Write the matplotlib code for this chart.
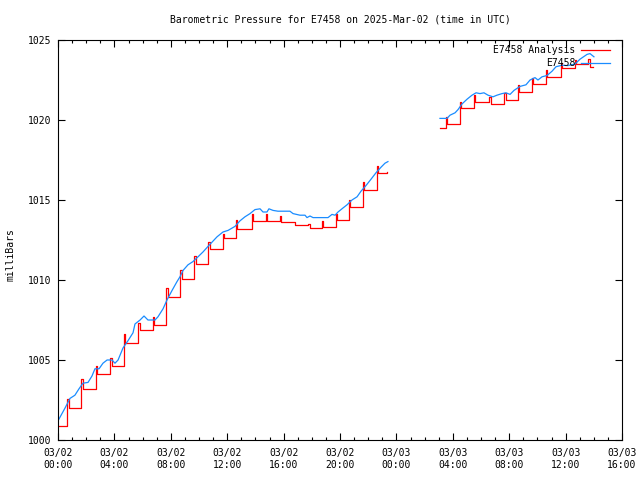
import matplotlib
matplotlib.use('Agg')
import matplotlib.pyplot as plt
import matplotlib.dates as mdates
import numpy as np
import pandas as pd

start = pd.Timestamp('2025-03-02 00:00')

# analysis (red): hourly step with spike -> (hour, spike value, plateau value)
red1_start = (0.0, 1000.9)
red1_t = [0.66, 1.65, 2.67, 3.71, 4.68, 5.70, 6.74, 7.68, 8.67, 9.67, 10.66, 11.68,
          12.62, 13.76, 14.75, 15.74, 16.80, 17.75, 18.70, 19.72, 20.62, 21.61, 22.59]
red1_peak = [1002.56, 1003.8, 1004.6, 1005.15, 1006.65, 1007.3, 1007.7, 1009.5, 1010.6,
             1011.5, 1012.4, 1012.9, 1013.75, 1014.1, 1014.1, 1014.0, 1013.45, 1013.5,
             1013.7, 1014.15, 1015.0, 1016.14, 1017.13]
red1_flat = [1002.0, 1003.2, 1004.15, 1004.6, 1006.05, 1006.9, 1007.2, 1008.95, 1010.05,
             1011.0, 1011.95, 1012.6, 1013.2, 1013.7, 1013.7, 1013.6, 1013.45, 1013.25,
             1013.3, 1013.75, 1014.58, 1015.63, 1016.67]
red1_end = (23.31, 1016.72)

red2_start = (27.09, 1019.48)
red2_t = [27.52, 28.51, 29.49, 30.60, 31.65, 32.60, 33.60, 34.61, 35.65, 36.67, 37.61]
red2_peak = [1020.2, 1021.1, 1021.56, 1021.46, 1021.7, 1022.19, 1022.65, 1023.13,
             1023.54, 1023.72, 1023.81]
red2_flat = [1019.75, 1020.77, 1021.12, 1021.0, 1021.27, 1021.77, 1022.23, 1022.71,
             1023.23, 1023.48, 1023.33]
red2_end = (37.92, 1023.33)

# station obs (blue)
blue1_t = [0.0, 0.5, 0.85, 1.2, 1.49, 1.77, 2.13, 2.41, 2.62, 2.91, 3.19, 3.48, 3.83,
           4.04, 4.26, 4.61, 4.96, 5.32, 5.46, 5.82, 6.1, 6.38, 6.88, 7.09, 7.45, 7.73,
           8.09, 8.44, 8.65, 8.87, 9.22, 9.57, 9.93, 10.28, 10.64, 11.28, 11.7, 12.06,
           12.55, 12.91, 13.26, 13.62, 13.97, 14.33, 14.54, 14.82, 14.96, 15.25, 15.6,
           16.45, 16.67, 17.16, 17.52, 17.66, 17.87, 18.09, 19.15, 19.43, 19.65, 19.86,
           20.21, 20.5, 20.85, 21.21, 21.49, 21.84, 22.2, 22.55, 22.91, 23.19, 23.4]
blue1_v = [1001.2, 1002.0, 1002.6, 1002.8, 1003.2, 1003.55, 1003.6, 1004.0, 1004.45,
           1004.45, 1004.8, 1005.0, 1005.0, 1004.8, 1005.0, 1005.75, 1006.2, 1006.7,
           1007.25, 1007.5, 1007.75, 1007.5, 1007.5, 1007.7, 1008.2, 1008.75, 1009.35,
           1009.9, 1010.2, 1010.6, 1010.95, 1011.15, 1011.45, 1011.75, 1012.1, 1012.7,
           1013.0, 1013.1, 1013.35, 1013.7, 1013.95, 1014.15, 1014.4, 1014.45, 1014.25,
           1014.25, 1014.45, 1014.35, 1014.3, 1014.3, 1014.15, 1014.05, 1014.05, 1013.9,
           1014.0, 1013.9, 1013.9, 1014.1, 1014.05, 1014.25, 1014.5, 1014.7, 1015.0,
           1015.2, 1015.55, 1015.9, 1016.3, 1016.7, 1017.05, 1017.3, 1017.4]
blue2_t = [27.09, 27.59, 27.8, 28.16, 28.37, 28.65, 29.01, 29.36, 29.65, 29.93, 30.21,
           30.5, 30.85, 31.13, 31.49, 31.77, 32.06, 32.34, 32.77, 33.19, 33.48, 33.83,
           34.04, 34.33, 34.68, 35.04, 35.32, 35.74, 36.17, 36.67, 37.02, 37.52, 37.73,
           38.01]
blue2_v = [1020.1, 1020.1, 1020.3, 1020.45, 1020.65, 1021.0, 1021.3, 1021.55, 1021.7,
           1021.65, 1021.7, 1021.55, 1021.45, 1021.55, 1021.65, 1021.7, 1021.6, 1021.85,
           1022.1, 1022.2, 1022.5, 1022.65, 1022.5, 1022.7, 1022.78, 1023.05, 1023.33,
           1023.42, 1023.4, 1023.5, 1023.8, 1024.1, 1024.15, 1023.95]

xtick_hours = [0, 4, 8, 12, 16, 20, 24, 28, 32, 36, 40]
yticks = [1000, 1005, 1010, 1015, 1020, 1025]


def to_time(hours):
    return start + pd.to_timedelta(np.asarray(hours, dtype=float), unit='h')


def red_steps(first, ts, peaks, flats, last):
    # spike at each hour then settle onto the plateau
    t, v = [first[0]], [first[1]]
    for ti, pk, fl in zip(ts, peaks, flats):
        t += [ti, ti + 0.1]
        v += [pk, fl]
    t.append(last[0])
    v.append(last[1])
    return to_time(t), v


mono = 'DejaVu Sans Mono'
plt.rcParams['font.family'] = mono
plt.rcParams['font.size'] = 7

fig = plt.figure(figsize=(6.4, 4.8), dpi=100)
ax = fig.add_axes([58 / 640, 40 / 480, 564 / 640, 400 / 480])

red_c = '#ff0000'
blue_c = '#1a8cff'
lw = 0.9

for seg in [(red1_start, red1_t, red1_peak, red1_flat, red1_end),
            (red2_start, red2_t, red2_peak, red2_flat, red2_end)]:
    t, v = red_steps(*seg)
    ax.plot(t, v, color=red_c, lw=lw, drawstyle='steps-post')

ax.plot(to_time(blue1_t), blue1_v, color=blue_c, lw=lw)
ax.plot(to_time(blue2_t), blue2_v, color=blue_c, lw=lw)

ax.set_xlim(to_time([0])[0], to_time([40])[0])
ax.set_ylim(1000, 1025)
ax.set_yticks(yticks)
ax.set_xticks(to_time(xtick_hours))
ax.xaxis.set_major_formatter(mdates.DateFormatter('%m/%d\n%H:%M'))
ax.xaxis.set_minor_locator(mdates.HourLocator())
ax.tick_params(which='major', direction='in', length=5, width=0.8,
               top=True, right=True, labelsize=7)
ax.tick_params(which='minor', direction='in', length=2.5, width=0.8, top=True)
ax.tick_params(axis='x', pad=6)
ax.tick_params(axis='y', pad=5)
for s in ax.spines.values():
    s.set_linewidth(0.8)

# gnuplot-style key, text right-justified
ax.text(0.917, 0.975, 'E7458 Analysis', transform=ax.transAxes, ha='right',
        va='center', fontsize=7)
ax.text(0.917, 0.9425, 'E7458', transform=ax.transAxes, ha='right',
        va='center', fontsize=7)
ax.plot([0.927, 0.979], [0.975, 0.975], transform=ax.transAxes, color=red_c, lw=lw)
ax.plot([0.927, 0.979], [0.9425, 0.9425], transform=ax.transAxes, color=blue_c, lw=lw)

fig.text(340 / 640, 1 - 19 / 480, 'Barometric Pressure for E7458 on 2025-Mar-02 (time in UTC)',
         ha='center', va='center', fontsize=7)
fig.text(11 / 640, 1 - 255 / 480, 'milliBars', rotation=90, ha='center',
         va='center', fontsize=7)

fig.savefig('out.png', dpi=100)
